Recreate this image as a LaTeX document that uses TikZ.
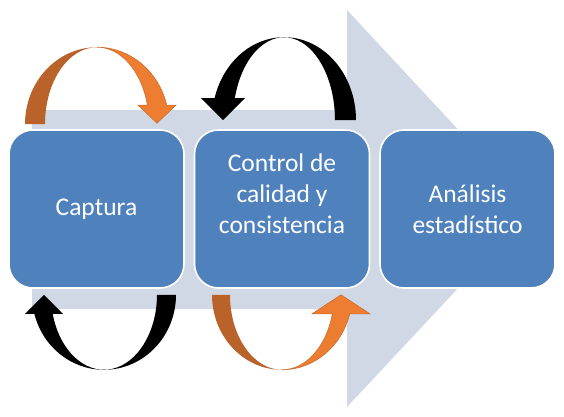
\documentclass[tikz,border=0pt]{standalone}
\usepackage{fontspec}
\setmainfont{Carlito}
\usepackage{xcolor}
\definecolor{flowGrey}{HTML}{D0D7E5}
\definecolor{flowBlue}{HTML}{4F81BD}
\definecolor{flowOrange}{HTML}{ED7D31}
\definecolor{flowOrangeDk}{HTML}{B9622A}
\definecolor{flowOrangeLn}{HTML}{C96A2C}
\usetikzlibrary{calc}

\begin{document}
\begin{tikzpicture}[x=1pt, y=1pt,
  stage/.style={draw=white, line width=1.6pt, fill=flowBlue, rounded corners=24pt,
    minimum width=175pt, minimum height=158pt, inner sep=0pt, text=white,
    align=center, font=\fontsize{25.5}{31}\selectfont},
  stagetext/.style={text=white, align=center, font=\fontsize{25.5}{31}\selectfont}]
  \useasboundingbox (0,0) rectangle (564,416);
  % ---- background arrow ----
  \fill[flowGrey] (32,107) -- (347,107) -- (347,9) -- (532,207) -- (347,406)
    -- (347,306) -- (32,306) -- cycle;
  % ---- stages ----
  \node[stage] (cap) at (96.5,207) {Captura};
  \node[stage] (ctl) at (282,207) {};
  \node[stagetext] (ctltxt) at ([yshift=15pt]ctl.center) {Control de\\calidad y\\consistencia};
  \node[stage] (ana) at (467.5,207) {Análisis\\estadístico};
  % ---- loop above Captura (orange) ----
  \begin{scope}[shift={($(cap.north)+(0.5,5)$)}]
    \fill[flowOrangeDk] (-72,0) arc[start angle=180, end angle=90, x radius=72, y radius=77]
      arc[start angle=90, end angle=180, x radius=52, y radius=77] -- cycle;
    \filldraw[fill=flowOrange, draw=flowOrangeLn, line width=0.5pt] (0,77)
      arc[start angle=90, end angle=14.3, x radius=72, y radius=77] -- (79,19) -- (60,1)
      -- (41,19) -- (50.4,19) arc[start angle=14.3, end angle=90, x radius=52, y radius=77] -- cycle;
  \end{scope}
  % ---- loop above control (black) ----
  \begin{scope}[shift={($(ctl.north)+(2,9)$)}]
    \fill[black] (72,0) arc[start angle=0, end angle=164.6, x radius=72, y radius=83]
      -- (-83,22) -- (-61,0) -- (-39,22) -- (-49.2,22)
      arc[start angle=164.6, end angle=0, x radius=51, y radius=83] -- cycle;
  \end{scope}
  % ---- loop below Captura (black) ----
  \begin{scope}[shift={($(cap.south)+(7.5,-6)$)}]
    \fill[black] (72,0) arc[start angle=0, end angle=-165.3, x radius=72, y radius=75]
      -- (-79,-19) -- (-60,0) -- (-41,-19) -- (-51.3,-19)
      arc[start angle=-165.3, end angle=0, x radius=53, y radius=75] -- cycle;
  \end{scope}
  % ---- loop below control (orange) ----
  \begin{scope}[shift={($(ctl.south)+(0,-6)$)}]
    \fill[flowOrangeDk] (-70,0) arc[start angle=180, end angle=270, x radius=70, y radius=75]
      arc[start angle=270, end angle=180, x radius=52, y radius=75] -- cycle;
    \filldraw[fill=flowOrange, draw=flowOrangeLn, line width=0.5pt] (0,-75)
      arc[start angle=270, end angle=345.3, x radius=70, y radius=75] -- (88,-19) -- (59,0)
      -- (30,-19) -- (50.3,-19) arc[start angle=345.3, end angle=270, x radius=52, y radius=75] -- cycle;
  \end{scope}
\end{tikzpicture}
\end{document}
